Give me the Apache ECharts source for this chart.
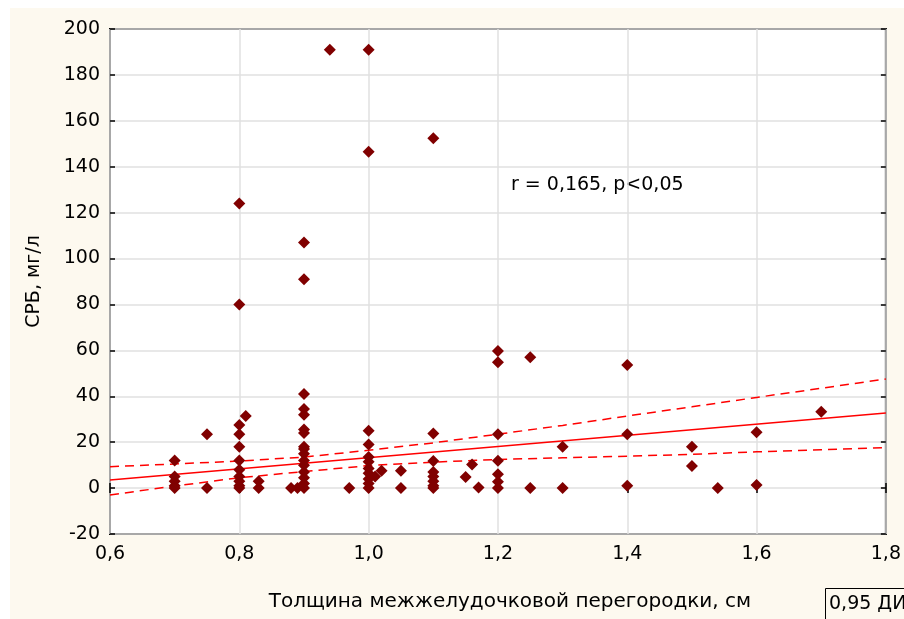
<!DOCTYPE html>
<html>
<head>
<meta charset="utf-8">
<script src="https://cdn.jsdelivr.net/npm/echarts@6/dist/echarts.min.js"></script>
<style>
  html, body { margin: 0; padding: 0; background: #fff; }
  #chart { width: 904px; height: 619px; }
</style>
</head>
<body>
<div id="chart"></div>
<script>
// толщина МЖП (см) и СРБ (мг/л), по точкам
const thickness = [
    0.7, 0.7, 0.7, 0.7, 0.7,
    0.75, 0.75,
    0.8, 0.8, 0.8, 0.8, 0.8, 0.8, 0.8, 0.8, 0.8, 0.8, 0.8,
    0.81,
    0.83, 0.83,
    0.88, 0.89,
    0.9, 0.9, 0.9, 0.9, 0.9, 0.9, 0.9, 0.9, 0.9, 0.9, 0.9, 0.9, 0.9, 0.9, 0.9, 0.9,
    0.94, 0.97,
    1.0, 1.0, 1.0, 1.0, 1.0, 1.0, 1.0, 1.0, 1.0, 1.0, 1.0,
    1.01, 1.02,
    1.05, 1.05,
    1.1, 1.1, 1.1, 1.1, 1.1, 1.1, 1.1, 1.1,
    1.15, 1.16, 1.17,
    1.2, 1.2, 1.2, 1.2, 1.2, 1.2, 1.2,
    1.25, 1.25,
    1.3, 1.3,
    1.4, 1.4, 1.4,
    1.5, 1.5,
    1.54,
    1.6, 1.6,
    1.7
];
const crp = [
    12, 5, 3, 1, 0,
    23.5, 0,
    124, 80, 27.5, 23.5, 18, 12, 8, 5, 3, 1, 0,
    31.4,
    3, 0,
    0, 0,
    107, 91, 41, 34.5, 32, 25.5, 24, 18, 17, 15, 12, 10, 7, 4.5, 2, 0,
    191, 0,
    191, 146.5, 25, 19, 13.5, 11.5, 8.5, 6.5, 4, 2, 0,
    5, 7.6,
    7.6, 0,
    152.4, 23.8, 11.8, 7, 5, 3, 1, 0,
    4.8, 10.3, 0.3,
    59.7, 54.8, 23.5, 11.9, 6, 2.8, 0,
    57, 0,
    18, 0,
    53.6, 23.5, 1,
    18, 9.6,
    0,
    24.3, 1.3,
    33.3
];

// линия регрессии и 0,95 ДИ
const fitX = [0.6, 1.8];
const fitY = [3.5, 32.7];
const bandX = [0.6, 0.7, 0.8, 0.9, 1.0, 1.1, 1.2, 1.3, 1.4, 1.5, 1.6, 1.7, 1.8];
const bandUpper = [9.3, 10.5, 11.8, 13.5, 16.5, 19.7, 23.5, 27.3, 31.4, 35.4, 39.5, 43.5, 47.5];
const bandLower = [-3, 0.9, 4.5, 7.2, 9.8, 11.3, 12.5, 13.2, 13.9, 14.7, 15.8, 16.7, 17.6];

const xTicks = { min: 0.6, max: 1.8, interval: 0.2 };
const yTicks = { min: -20, max: 200, interval: 20 };

const font = 'DejaVu Sans, Liberation Sans, sans-serif';
const fs = 19;
const xFmt = v => v.toFixed(1).replace('.', ',');
const yFmt = v => String(Math.round(v));
const pairs = (xs, ys) => xs.map((x, i) => [x, ys[i]]);

const chart = echarts.init(document.getElementById('chart'));

const baseX = {
    type: 'value', ...xTicks,
    axisLine: { show: false },
    axisTick: { show: true, inside: true, length: 5, lineStyle: { color: '#000', width: 1.5 } },
    splitLine: { show: false }
};
const baseY = {
    type: 'value', ...yTicks,
    axisLine: { show: false },
    axisTick: { show: true, inside: true, length: 5, lineStyle: { color: '#000', width: 1.5 } },
    splitLine: { show: false }
};

chart.setOption({
    animation: false,
    backgroundColor: '#fff',
    textStyle: { fontFamily: font },
    graphic: [
        { type: 'rect', z: -10, shape: { x: 10, y: 8, width: 900, height: 620 }, style: { fill: '#fdf9ef' } },
        { type: 'text', left: 511, top: 176, style: { text: 'r = 0,165, p<0,05', font: fs + 'px ' + font, fill: '#000' } },
        { type: 'rect', shape: { x: 825.5, y: 588.5, width: 100, height: 40 }, style: { fill: 'transparent', stroke: '#000', lineWidth: 1 } },
        { type: 'text', left: 829, top: 595, style: { text: '0,95 ДИ', font: fs + 'px ' + font, fill: '#000' } }
    ],
    grid: {
        left: 110, top: 29, right: 17, bottom: 85,
        show: true, backgroundColor: '#fff', borderColor: '#000', borderWidth: 2
    },
    xAxis: [
        {
            ...baseX,
            position: 'bottom',
            name: 'Толщина межжелудочковой перегородки, см',
            nameLocation: 'middle', nameGap: 58,
            nameTextStyle: { fontSize: 20, color: '#000', fontFamily: font, padding: [0, 0, 0, 24] },
            axisLabel: { fontSize: fs, color: '#000', margin: 11, formatter: xFmt },
            splitLine: { show: true, lineStyle: { color: '#e0e0e0', width: 1.5 } }
        },
        { ...baseX, position: 'top', axisLabel: { show: false } }
    ],
    yAxis: [
        {
            ...baseY,
            position: 'left',
            name: 'СРБ, мг/л',
            nameLocation: 'middle', nameGap: 66,
            nameTextStyle: { fontSize: fs, color: '#000', fontFamily: font },
            axisLabel: { fontSize: fs, color: '#000', margin: 10, formatter: yFmt },
            splitLine: { show: true, lineStyle: { color: '#e0e0e0', width: 1.5 } }
        },
        { ...baseY, position: 'right', axisLabel: { show: false } }
    ],
    series: [
        {
            type: 'line', data: pairs(fitX, fitY), showSymbol: false, symbol: 'none',
            lineStyle: { color: '#ff0000', width: 1.5 }, z: 3
        },
        {
            type: 'line', data: pairs(bandX, bandUpper), symbol: 'none',
            lineStyle: { color: '#ff0000', width: 1.5, type: [9, 6] }, z: 3
        },
        {
            type: 'line', data: pairs(bandX, bandLower), symbol: 'none',
            lineStyle: { color: '#ff0000', width: 1.5, type: [9, 6] }, z: 3
        },
        {
            type: 'scatter', data: pairs(thickness, crp),
            symbol: 'diamond', symbolSize: 12,
            itemStyle: { color: '#800000', opacity: 1 }, z: 4
        }
    ]
});
</script>
</body>
</html>
